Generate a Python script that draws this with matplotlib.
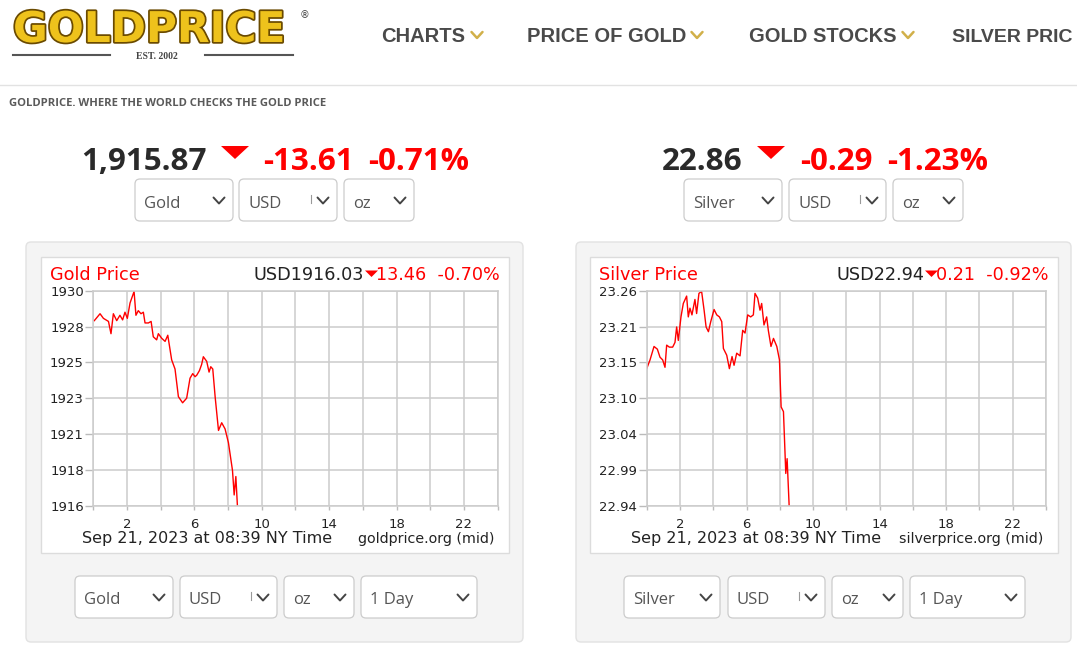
import matplotlib
matplotlib.use('Agg')
import matplotlib.pyplot as plt
import matplotlib.patheffects as pe
from matplotlib.patches import FancyBboxPatch, Polygon, Rectangle
import numpy as np

# ---- data (hours since midnight NY time) ----
gold_hours = [0.06, 0.4, 0.6, 0.9, 1.05, 1.19, 1.39, 1.58, 1.74, 1.88, 2.02, 2.18, 2.42, 2.53, 2.67,
              2.83, 2.97, 3.07, 3.27, 3.43, 3.56, 3.76, 3.86, 4.06, 4.26, 4.42, 4.65, 4.85, 5.05, 5.3,
              5.54, 5.74, 5.9, 6.04, 6.14, 6.3, 6.43, 6.53, 6.73, 6.87, 6.97, 7.09, 7.23, 7.43, 7.62,
              7.82, 8.02, 8.26, 8.36, 8.46, 8.55]
gold_prices = [1928.05, 1928.5, 1928.2, 1928.0, 1927.2, 1928.5, 1928.05, 1928.4, 1928.1, 1928.6,
               1928.2, 1929.2, 1929.95, 1928.4, 1928.7, 1928.5, 1928.6, 1927.9, 1927.9, 1928.0,
               1927.0, 1926.8, 1927.2, 1926.9, 1926.7, 1927.1, 1925.5, 1924.9, 1923.1, 1922.7,
               1923.0, 1924.3, 1924.6, 1924.4, 1924.5, 1924.8, 1925.2, 1925.7, 1925.4, 1924.7,
               1925.05, 1924.9, 1923.1, 1920.9, 1921.4, 1921.0, 1920.1, 1918.3, 1916.7, 1917.9, 1916.05]

silver_hours = [0, 0.2, 0.44, 0.64, 0.8, 0.96, 1.1, 1.2, 1.36, 1.56, 1.7, 1.8, 1.9, 2.06, 2.2, 2.4,
                2.5, 2.6, 2.72, 2.9, 3.0, 3.14, 3.3, 3.45, 3.57, 3.71, 3.85, 4.05, 4.21, 4.37, 4.51,
                4.61, 4.81, 4.97, 5.13, 5.25, 5.41, 5.61, 5.77, 5.91, 6.07, 6.25, 6.41, 6.51, 6.67,
                6.81, 6.91, 7.05, 7.21, 7.31, 7.47, 7.62, 7.82, 7.98, 8.08, 8.22, 8.36, 8.44, 8.56]
silver_prices = [23.144, 23.157, 23.177, 23.173, 23.161, 23.157, 23.146, 23.179, 23.176, 23.176,
                 23.183, 23.206, 23.186, 23.221, 23.241, 23.252, 23.221, 23.234, 23.224, 23.247,
                 23.226, 23.256, 23.259, 23.231, 23.206, 23.199, 23.214, 23.232, 23.224, 23.221,
                 23.214, 23.174, 23.164, 23.144, 23.162, 23.149, 23.167, 23.163, 23.201, 23.197,
                 23.224, 23.221, 23.224, 23.256, 23.249, 23.231, 23.241, 23.209, 23.221, 23.201,
                 23.177, 23.189, 23.177, 23.157, 23.087, 23.08, 22.988, 23.01, 22.941]

gold_ylim = (1916, 1930)
silver_ylim = (22.94, 23.26)
gold_ticklabels = ['1916', '1918', '1921', '1923', '1925', '1928', '1930']
silver_ticklabels = ['22.94', '22.99', '23.04', '23.10', '23.15', '23.21', '23.26']
hour_labels = [2, 6, 10, 14, 18, 22]

nav_items = ['CHARTS', 'PRICE OF GOLD', 'GOLD STOCKS', 'SILVER PRIC']

W, H = 1077, 657
fig = plt.figure(figsize=(W / 100, H / 100), dpi=100)
fig.patch.set_facecolor('white')

# page layer, in pixel coordinates (y downwards)
bg = fig.add_axes([0, 0, 1, 1])
bg.set_xlim(0, W)
bg.set_ylim(H, 0)
bg.axis('off')


def box(x0, y0, x1, y1, fc, ec, r=4, lw=1.0):
    bg.add_patch(FancyBboxPatch((x0, y0), x1 - x0, y1 - y0,
                                boxstyle='round,pad=0,rounding_size=%s' % r,
                                fc=fc, ec=ec, lw=lw))


def chevron(cx, cy, w, h, color, lw):
    bg.plot([cx - w / 2, cx, cx + w / 2], [cy - h / 2, cy + h / 2, cy - h / 2],
            color=color, lw=lw, solid_capstyle='round')


def dropdown(x0, x1, y0, y1, label, mark=False):
    box(x0, y0, x1, y1, 'white', '#cccccc', r=5, lw=0.9)
    bg.text(x0 + 9, y0 + 28.5, label, fontsize=12, family='Open Sans',
            color='#555555', va='baseline', ha='left')
    chevron(x1 - 14, (y0 + y1) / 2 + 0.5, 11, 6, '#444444', 1.4)
    if mark:
        bg.plot([x1 - 26, x1 - 26], [y0 + 16, y0 + 24], color='#999999', lw=0.8)


def down_tri(x0, x1, y0, y1):
    bg.add_patch(Polygon([(x0, y0), (x1, y0), ((x0 + x1) / 2, y1)], closed=True,
                         fc='#ff0000', ec='none'))


# ---- header ----
bg.text(13, 42, 'GOLDPRICE', fontsize=30.5, fontweight='bold', family='DejaVu Sans',
        color='#eec21c', va='baseline', ha='left',
        path_effects=[pe.withStroke(linewidth=2.5, foreground='#6a4a00')])
bg.text(300, 15, '®', fontsize=7, color='#444444', va='center', ha='left')
bg.plot([13, 110], [55, 55], color='#555555', lw=1.5)
bg.plot([205, 293], [55, 55], color='#555555', lw=1.5)
bg.text(157, 56.5, 'EST. 2002', fontsize=7, fontweight='bold', family='Liberation Serif',
        color='#444444', va='center', ha='center')

nav_x = [381, 527, 749, 952]
chev_x = [477, 697, 908, None]
nav_size = [14.5, 14.5, 14.5, 14]
for label, x, cx, fs in zip(nav_items, nav_x, chev_x, nav_size):
    bg.text(x, 42, label, fontsize=fs, fontweight='bold', family='Liberation Sans',
            color='#4a4a4a', va='baseline', ha='left')
    if cx is not None:
        chevron(cx, 35, 11, 6, '#d1b04a', 1.8)

bg.plot([0, W], [84.5, 84.5], color='#e2e2e2', lw=1)
bg.text(9, 106, 'GOLDPRICE. WHERE THE WORLD CHECKS THE GOLD PRICE', fontsize=8.1,
        fontweight='bold', family='Open Sans', color='#5a5a5a', va='baseline', ha='left')

# big spot prices
big = dict(fontsize=22.6, fontweight='bold', family='Open Sans', va='baseline', ha='left')
bg.text(81, 170, '1,915.87', color='#2a2a2a', **big)
down_tri(221, 249, 146, 159)
bg.text(263, 170, '-13.61', color='#ff0000', **big)
bg.text(368, 170, '-0.71%', color='#ff0000', **big)
dropdown(135, 233, 179, 221, 'Gold')
dropdown(239, 337, 179, 221, 'USD', mark=True)
dropdown(344, 414, 179, 221, 'oz')

bg.text(662, 170, '22.86', color='#2a2a2a', **big)
down_tri(757, 785, 146, 159)
bg.text(800, 170, '-0.29', color='#ff0000', **big)
bg.text(887, 170, '-1.23%', color='#ff0000', **big)
dropdown(684, 782, 179, 221, 'Silver')
dropdown(789, 886, 179, 221, 'USD', mark=True)
dropdown(893, 963, 179, 221, 'oz')


def chart(panel, white, plot, name, usd, change, hours, prices, ylim, ticklabels, site, oz_x,
          tri, selects):
    box(panel[0], 242, panel[1], 642, '#f4f4f4', '#e2e2e2', r=5)
    bg.add_patch(Rectangle((white[0], 257), white[1] - white[0], 296, fc='white',
                           ec='#dcdcdc', lw=1))
    hdr = dict(fontsize=12.7, family='DejaVu Sans', va='baseline')
    bg.text(white[0] + 9, 280, name, color='#ff0000', ha='left', **hdr)
    bg.text(tri[0] - 1, 280, usd, color='#222222', ha='right', **hdr)
    down_tri(tri[0], tri[1], 270.5, 277)
    bg.text(white[1] - 9, 280, change, color='#ff0000', ha='right', **hdr)

    px0, px1, py0, py1 = plot
    ax = fig.add_axes([px0 / W, 1 - py1 / H, (px1 - px0) / W, (py1 - py0) / H])
    ax.set_facecolor('white')
    ax.plot(hours, prices, color='#ff0000', lw=1.0)
    ax.set_xlim(0, 24)
    ax.set_ylim(*ylim)
    xt = list(range(0, 25, 2))
    ax.set_xticks(xt)
    ax.set_xticklabels([str(h) if h in hour_labels else '' for h in xt])
    ax.set_yticks(np.linspace(ylim[0], ylim[1], 7))
    ax.set_yticklabels(ticklabels)
    ax.grid(True, color='#cccccc', lw=1.1)
    ax.set_axisbelow(True)
    for s in ax.spines.values():
        s.set_color('#cccccc')
        s.set_linewidth(1.1)
    ax.tick_params(axis='y', length=6, width=1, color='#bbbbbb', pad=0.8,
                   labelsize=9.5, labelcolor='#222222')
    ax.tick_params(axis='x', length=3, width=1, color='#bbbbbb', pad=5.5,
                   labelsize=9.5, labelcolor='#222222')
    for lab in ax.get_xticklabels() + ax.get_yticklabels():
        lab.set_family('DejaVu Sans')

    bg.text(oz_x, 500, 'oz', fontsize=9.5, color='#222222', va='baseline', ha='right')
    bg.text(white[0] + 41, 543, 'Sep 21, 2023 at 08:39 NY Time', fontsize=11.5,
            color='#222222', va='baseline', ha='left')
    bg.text(white[1] - 15, 543, site, fontsize=10.3, color='#222222', va='baseline',
            ha='right')

    labels = [selects[0], 'USD', 'oz', '1 Day']
    for (x0, x1), lab in zip(selects[1], labels):
        dropdown(x0, x1, 576, 618, lab, mark=(lab == 'USD'))


chart((26, 523), (41, 509), (93.3, 497.7, 290.7, 505.7), 'Gold Price', 'USD1916.03',
      '13.46  -0.70%', gold_hours, gold_prices, gold_ylim, gold_ticklabels,
      'goldprice.org (mid)', 490, (365, 378),
      ('Gold', [(75, 173), (180, 277), (284, 354), (361, 477)]))
chart((576, 1071), (590, 1058), (646.7, 1046, 290.7, 505.7), 'Silver Price', 'USD22.94',
      '0.21  -0.92%', silver_hours, silver_prices, silver_ylim, silver_ticklabels,
      'silverprice.org (mid)', 1038, (925, 938),
      ('Silver', [(624, 720), (728, 825), (832, 903), (910, 1025)]))

fig.savefig('out.png', dpi=100, facecolor='white')
